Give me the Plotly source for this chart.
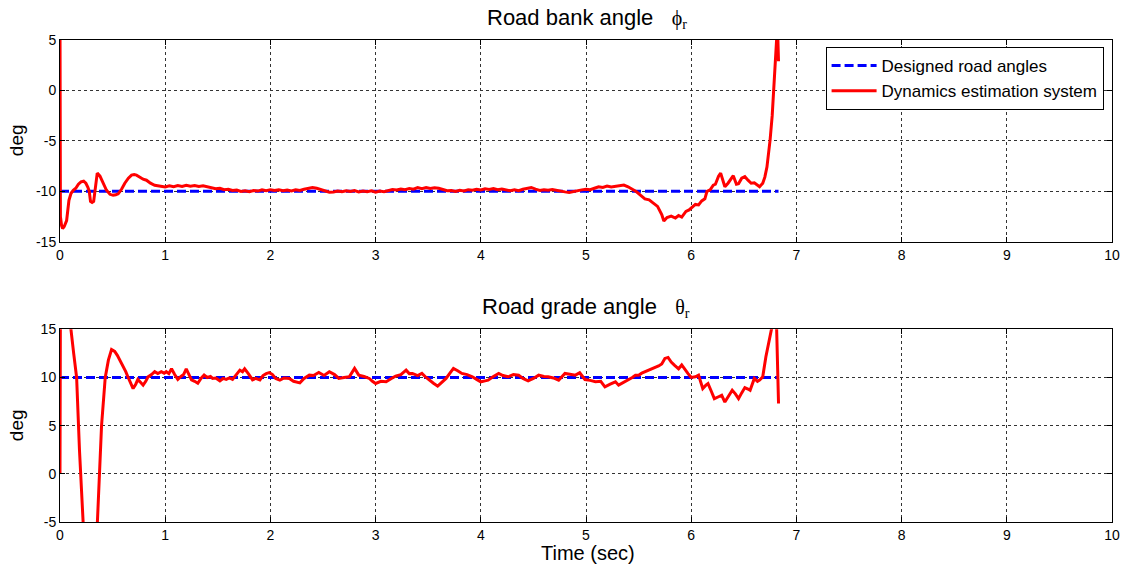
import plotly.graph_objects as go

# ---------------- data ----------------
design_t = [0.0, 6.83]
bank_design = [-10.0, -10.0]
grade_design = [10.0, 10.0]

bank_t = [0.000, 0.004, 0.015, 0.025, 0.040, 0.063, 0.085, 0.105, 0.126, 0.150, 0.175, 0.200,
          0.225, 0.246, 0.265, 0.278, 0.290, 0.305, 0.320, 0.335, 0.354, 0.380, 0.410, 0.442,
          0.475, 0.505, 0.530, 0.553, 0.585, 0.616, 0.650, 0.680, 0.705, 0.727, 0.760, 0.790,
          0.822, 0.860, 0.900, 0.950, 1.000,
          1.04, 1.08, 1.12, 1.16, 1.20, 1.24, 1.28, 1.32, 1.36, 1.40, 1.44, 1.48, 1.52, 1.56,
          1.60, 1.64, 1.68, 1.72, 1.76, 1.80, 1.84, 1.88, 1.92, 1.96, 2.00, 2.04, 2.08, 2.12,
          2.16, 2.20, 2.24, 2.28, 2.32, 2.36, 2.40, 2.44, 2.48, 2.52, 2.56, 2.60, 2.64, 2.68,
          2.72, 2.76, 2.80, 2.84, 2.88, 2.92, 2.96, 3.00, 3.04, 3.08, 3.12, 3.16, 3.20, 3.24,
          3.28, 3.32, 3.36, 3.40, 3.44, 3.48, 3.52, 3.56, 3.60, 3.64, 3.68, 3.72, 3.76, 3.80,
          3.84, 3.88, 3.92, 3.96, 4.00, 4.04, 4.08, 4.12, 4.16, 4.20, 4.24, 4.28, 4.32, 4.36,
          4.40, 4.44, 4.48, 4.52, 4.56, 4.60, 4.64, 4.68, 4.72, 4.76, 4.80, 4.84, 4.88, 4.92,
          4.96, 5.00, 5.04, 5.08, 5.12, 5.16, 5.20, 5.24, 5.28, 5.32, 5.36, 5.40, 5.44, 5.48,
          5.52, 5.56, 5.60, 5.64, 5.68, 5.72, 5.74, 5.77, 5.81, 5.85, 5.88, 5.91, 5.95, 5.98,
          6.01, 6.04, 6.07, 6.10, 6.13, 6.15, 6.18, 6.21, 6.23, 6.26, 6.28, 6.30, 6.32, 6.35,
          6.38, 6.40, 6.43, 6.45, 6.48, 6.51, 6.54, 6.57, 6.60, 6.63, 6.65, 6.68, 6.70, 6.72,
          6.74, 6.75, 6.77, 6.78, 6.79, 6.80, 6.81, 6.82, 6.83]
bank_est = [7.0, -12.5, -13.4, -13.7, -13.5, -12.9, -10.9, -10.2, -9.9, -9.7, -9.3, -9.07,
            -9.0, -9.2, -9.6, -10.0, -11.0, -11.1, -11.0, -9.6, -8.2, -8.5, -9.2, -9.9,
            -10.3, -10.4, -10.35, -10.25, -9.8, -9.2, -8.7, -8.4, -8.35, -8.4, -8.6, -8.8,
            -8.9, -9.2, -9.4, -9.5, -9.57,
            -9.46, -9.55, -9.44, -9.52, -9.40, -9.50, -9.43, -9.53, -9.46, -9.55, -9.62, -9.75, -9.70, -9.85,
            -9.80, -9.92, -9.88, -10.02, -9.94, -10.04, -9.92, -9.98, -9.86, -9.95, -9.84, -9.93, -9.85, -9.95,
            -9.88, -9.96, -9.86, -9.92, -9.80, -9.72, -9.62, -9.70, -9.85, -10.02, -10.10, -10.06, -9.98, -10.05,
            -9.95, -10.02, -9.93, -10.06, -9.97, -10.04, -9.95, -10.08, -9.98, -10.04, -9.90, -9.82, -9.88, -9.78,
            -9.85, -9.72, -9.80, -9.64, -9.74, -9.62, -9.72, -9.64, -9.70, -9.82, -9.95, -9.92, -10.02, -9.90,
            -9.96, -9.84, -9.90, -9.80, -9.86, -9.76, -9.82, -9.72, -9.84, -9.78, -9.90, -9.95, -9.86, -9.94,
            -9.80, -9.72, -9.62, -9.78, -9.92, -9.85, -9.90, -9.82, -9.92, -9.98, -10.06, -10.12, -10.02, -9.95,
            -9.86, -9.80, -9.84, -9.70, -9.55, -9.62, -9.48, -9.58, -9.50, -9.40, -9.38, -9.55, -9.80, -10.05,
            -10.40, -10.75, -10.85, -11.15, -11.50, -12.30, -12.95, -12.60, -12.46, -12.65, -12.40, -12.56, -12.00, -11.85,
            -11.55, -11.30, -11.35, -10.95, -10.75, -10.00, -9.85, -9.40, -9.30, -8.50, -8.20, -9.00, -9.55, -9.20,
            -8.70, -8.45, -9.30, -9.25, -8.70, -8.55, -8.90, -9.20, -9.15, -9.45, -9.55, -9.20, -8.60, -7.60,
            -6.00, -4.90, -2.50, -0.60, 1.80, 4.00, 5.80, 6.50, 2.90]

grade_t = [0.000, 0.004, 0.050, 0.104, 0.130, 0.158, 0.185, 0.210, 0.240, 0.280, 0.320, 0.354,
           0.375, 0.395, 0.430, 0.460, 0.490, 0.520, 0.545, 0.570, 0.600, 0.625, 0.648, 0.672,
           0.695, 0.720, 0.740, 0.765, 0.790, 0.815, 0.837, 0.870, 0.900, 0.930, 0.963, 0.990,
           1.010, 1.035, 1.060, 1.090, 1.120, 1.150, 1.175, 1.200, 1.225, 1.250, 1.280, 1.310,
           1.340, 1.370, 1.400, 1.430, 1.450, 1.480, 1.520, 1.550, 1.580, 1.610, 1.640, 1.675,
           1.710, 1.735, 1.755, 1.790, 1.830, 1.860, 1.900, 1.930, 1.960, 1.990, 2.020, 2.050,
           2.090, 2.130, 2.180, 2.220, 2.280, 2.320, 2.370, 2.410, 2.460, 2.510, 2.560, 2.610,
           2.650, 2.700, 2.750, 2.800, 2.840, 2.890, 2.940, 2.970, 3.000, 3.050, 3.100, 3.150,
           3.190, 3.240, 3.290, 3.320, 3.350, 3.400, 3.440, 3.480, 3.510, 3.550, 3.590, 3.630,
           3.670, 3.710, 3.740, 3.780, 3.820, 3.870, 3.920, 3.960, 4.000, 4.040, 4.070, 4.120,
           4.170, 4.210, 4.260, 4.310, 4.360, 4.400, 4.450, 4.500, 4.550, 4.600, 4.640, 4.690,
           4.740, 4.800, 4.850, 4.900, 4.940, 4.990, 5.040, 5.090, 5.140, 5.180, 5.230, 5.280,
           5.310, 5.360, 5.400, 5.440, 5.470, 5.500, 5.530, 5.560, 5.600, 5.650, 5.690, 5.720,
           5.750, 5.780, 5.810, 5.840, 5.880, 5.910, 5.940, 5.970, 6.000, 6.040, 6.070, 6.110,
           6.140, 6.160, 6.190, 6.220, 6.260, 6.290, 6.320, 6.350, 6.390, 6.420, 6.450, 6.480,
           6.510, 6.540, 6.560, 6.600, 6.630, 6.650, 6.680, 6.710, 6.740, 6.760, 6.780, 6.800,
           6.810, 6.830]
grade_est = [0.0, 18.0, 24.0, 15.0, 12.5, 10.0, 2.5, -5.0, -14.0, -18.0, -14.0, -5.0,
             0.5, 5.0, 10.0, 11.8, 12.9, 12.7, 12.3, 11.8, 11.2, 10.6, 10.0, 9.3,
             8.85, 9.3, 9.8, 9.5, 9.2, 9.6, 10.06, 10.3, 10.6, 10.4, 10.6, 10.45,
             10.6, 10.4, 10.9, 10.3, 9.8, 10.1, 10.3, 10.9, 10.4, 9.75, 9.6, 9.4,
             9.9, 10.26, 10.0, 10.1, 9.9, 9.95, 9.65, 9.9, 9.8, 9.95, 9.8, 10.3,
             10.76, 10.6, 10.9, 10.4, 9.75, 9.9, 9.75, 10.2, 10.4, 10.5, 10.3, 9.9,
             9.72, 9.95, 9.9, 9.6, 9.44, 9.9, 10.24, 10.2, 10.52, 10.2, 10.59, 10.3,
             9.9, 10.0, 10.07, 10.94, 10.24, 10.1, 9.9, 9.6, 9.38, 9.6, 9.55, 9.9,
             10.14, 10.3, 10.76, 10.4, 10.42, 10.2, 10.42, 10.0, 9.72, 9.4, 9.1, 9.5,
             9.9, 10.5, 10.94, 10.7, 10.42, 10.3, 10.07, 9.8, 9.55, 9.65, 9.72, 10.1,
             10.42, 10.2, 10.07, 10.3, 10.24, 9.9, 9.65, 9.9, 10.24, 10.1, 10.07, 9.95,
             9.72, 10.42, 10.3, 10.24, 10.49, 9.79, 9.7, 9.55, 9.6, 9.03, 9.3, 9.55,
             9.2, 9.5, 9.72, 10.0, 10.24, 10.24, 10.45, 10.59, 10.76, 10.94, 11.2, 11.4,
             11.98, 12.08, 11.6, 11.28, 10.9, 11.3, 10.8, 10.4, 10.0, 10.07, 10.24, 8.85,
             9.2, 9.37, 8.6, 7.8, 8.0, 8.15, 7.45, 8.0, 8.67, 8.3, 7.8, 8.4,
             8.95, 8.8, 8.67, 9.9, 9.6, 9.72, 10.07, 12.15, 13.8, 14.93, 16.5, 17.0,
             16.0, 7.3]

x_ticks = [0, 1, 2, 3, 4, 5, 6, 7, 8, 9, 10]
bank_ticks = [-15, -10, -5, 0, 5]
grade_ticks = [-5, 0, 5, 10, 15]

# ---------------- figure ----------------
FONT = "Liberation Sans, Arial, sans-serif"
BLUE = "#0000ff"
RED = "#ff0000"

fig = go.Figure()
fig.add_trace(go.Scatter(x=design_t, y=bank_design, mode="lines", name="Designed road angles",
                         line=dict(color=BLUE, width=3, dash="9px,4px"), xaxis="x", yaxis="y"))
fig.add_trace(go.Scatter(x=bank_t, y=bank_est, mode="lines", name="Dynamics estimation system",
                         line=dict(color=RED, width=3), xaxis="x", yaxis="y"))
fig.add_trace(go.Scatter(x=design_t, y=grade_design, mode="lines", showlegend=False,
                         line=dict(color=BLUE, width=3, dash="9px,4px"), xaxis="x2", yaxis="y2"))
fig.add_trace(go.Scatter(x=grade_t, y=grade_est, mode="lines", showlegend=False,
                         line=dict(color=RED, width=3), xaxis="x2", yaxis="y2"))

axis_common = dict(showline=True, linecolor="black", linewidth=1, mirror="ticks",
                   ticks="inside", ticklen=5, tickcolor="black", tickwidth=1,
                   showgrid=True, gridcolor="#333333", gridwidth=1, griddash="dot",
                   zeroline=False, tickfont=dict(family=FONT, size=14, color="black"))


def labels(vals):
    return [str(v) for v in vals]


fig.update_layout(
    width=1132, height=568,
    margin=dict(l=60, r=16, t=40, b=46),
    paper_bgcolor="white", plot_bgcolor="white",
    font=dict(family=FONT, color="black"),
    xaxis=dict(domain=[0, 1], range=[0, 10], tickvals=x_ticks, ticktext=labels(x_ticks),
               anchor="y", **axis_common),
    yaxis=dict(domain=[0.5815, 1], range=[-15, 5], tickvals=bank_ticks, ticktext=labels(bank_ticks),
               anchor="x", **axis_common),
    xaxis2=dict(domain=[0, 1], range=[0, 10], tickvals=x_ticks, ticktext=labels(x_ticks),
                anchor="y2", **axis_common),
    yaxis2=dict(domain=[0, 0.3998], range=[-5, 15], tickvals=grade_ticks, ticktext=labels(grade_ticks),
                anchor="x2", **axis_common),
    legend=dict(x=0.992, y=0.9855, xanchor="right", yanchor="top",
                bgcolor="white", bordercolor="black", borderwidth=1,
                font=dict(family=FONT, size=17, color="black"),
                tracegroupgap=0, itemwidth=45),
    showlegend=True,
)

serif = "Liberation Serif, Times New Roman, serif"
fig.add_annotation(xref="paper", yref="paper", x=0.4044, y=1.0456, xanchor="left", yanchor="middle",
                   showarrow=False, font=dict(family=FONT, size=22, color="black"),
                   text=f'Road bank angle   <span style="font-family:{serif};font-size:20px">ϕ<sub>r</sub></span>')
fig.add_annotation(xref="paper", yref="paper", x=0.3996, y=0.444, xanchor="left", yanchor="middle",
                   showarrow=False, font=dict(family=FONT, size=22, color="black"),
                   text=f'Road grade angle   <span style="font-family:{serif};font-size:20px">θ<sub>r</sub></span>')
fig.add_annotation(xref="paper", yref="paper", x=-0.0417, y=0.7925, xanchor="center", yanchor="middle",
                   showarrow=False, textangle=-90, font=dict(family=FONT, size=19, color="black"), text="deg")
fig.add_annotation(xref="paper", yref="paper", x=-0.0417, y=0.2012, xanchor="center", yanchor="middle",
                   showarrow=False, textangle=-90, font=dict(family=FONT, size=19, color="black"), text="deg")
fig.add_annotation(xref="paper", yref="paper", x=0.502, y=-0.0643, xanchor="center", yanchor="middle",
                   showarrow=False, font=dict(family=FONT, size=20, color="black"), text="Time (sec)")

fig.write_html("out.html")
